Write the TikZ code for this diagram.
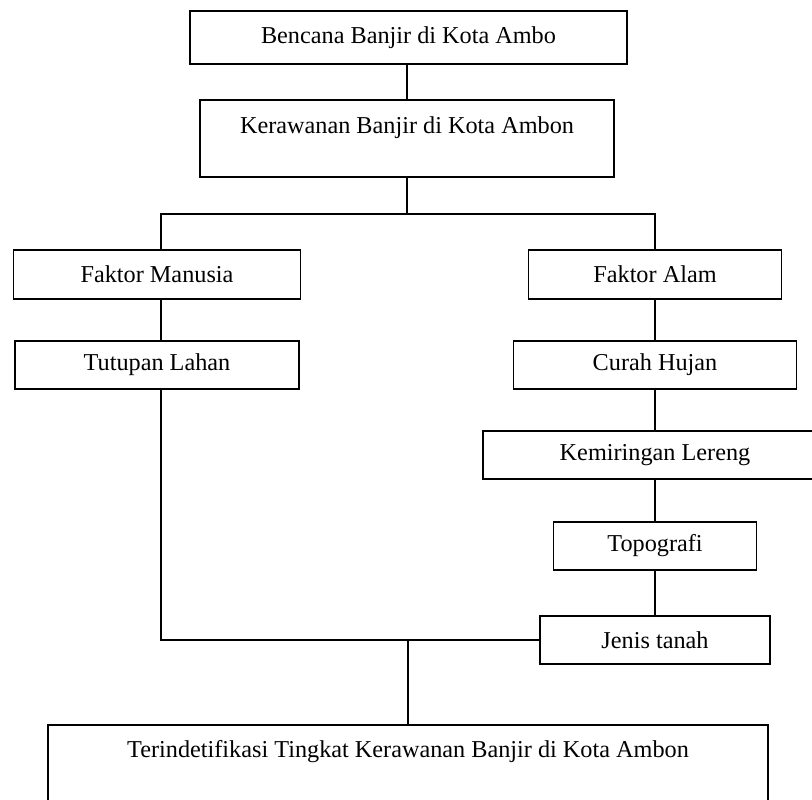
\documentclass[tikz,border=0pt]{standalone}
\usepackage{fontspec}
\setmainfont{Liberation Serif}
\usepackage{tikz}

\begin{document}
\begin{tikzpicture}[x=0.02cm, y=-0.02cm, line width=0.9pt,
  kotak/.style={draw, rectangle, minimum height=0.96cm, inner sep=0pt, line width=1pt, font=\fontsize{13.8}{16}\selectfont}]
\useasboundingbox (0,0) rectangle (812,800);

\node[kotak, minimum width=8.74cm, minimum height=1.06cm] (bencana) at (408.5,37.5) {Bencana Banjir di Kota Ambo};
\node[kotak, minimum width=8.28cm, anchor=north, text height=0.68cm, text depth=0.86cm] (kerawanan) at (407,99) {Kerawanan Banjir di Kota Ambon};

\node[kotak, minimum width=5.74cm, minimum height=0.98cm] (manusia) at (157,274.5) {Faktor Manusia};
\node[kotak, minimum width=5.68cm] (tutupan) at (157,365) {Tutupan Lahan};

\node[kotak, minimum width=5.06cm, minimum height=0.98cm] (alam) at (655,274.5) {Faktor Alam};
\node[kotak, minimum width=5.66cm] (curah) at (655,365) {Curah Hujan};
\node[kotak, minimum width=6.88cm] (lereng) at (655,455) {Kemiringan Lereng};
\node[kotak, minimum width=4.06cm] (topografi) at (655,546) {Topografi};
\node[kotak, minimum width=4.6cm] (jenis) at (655,640) {Jenis tanah};

\node[kotak, minimum width=14.4cm, anchor=north, text height=0.66cm, text depth=0.9cm] (hasil) at (408,724) {Terindetifikasi Tingkat Kerawanan Banjir di Kota Ambon};

\coordinate (cabang) at (407,214);
\coordinate (kiri) at (161,214);
\coordinate (kanan) at (655,214);
\coordinate (gabung) at (408,640);

\draw (bencana.south -| kerawanan.north) -- (kerawanan.north);
\draw (kerawanan.south) -- (cabang);
\draw (kiri |- manusia.north) -- (kiri) -- (kanan) -- (alam.north);
\draw (kiri |- manusia.south) -- (kiri |- tutupan.north);
\draw (kiri |- tutupan.south) |- (jenis.west);
\draw (gabung) -- (hasil.north);

\draw (alam.south) -- (curah.north);
\draw (curah.south) -- (lereng.north);
\draw (lereng.south) -- (topografi.north);
\draw (topografi.south) -- (jenis.north);
\end{tikzpicture}
\end{document}
